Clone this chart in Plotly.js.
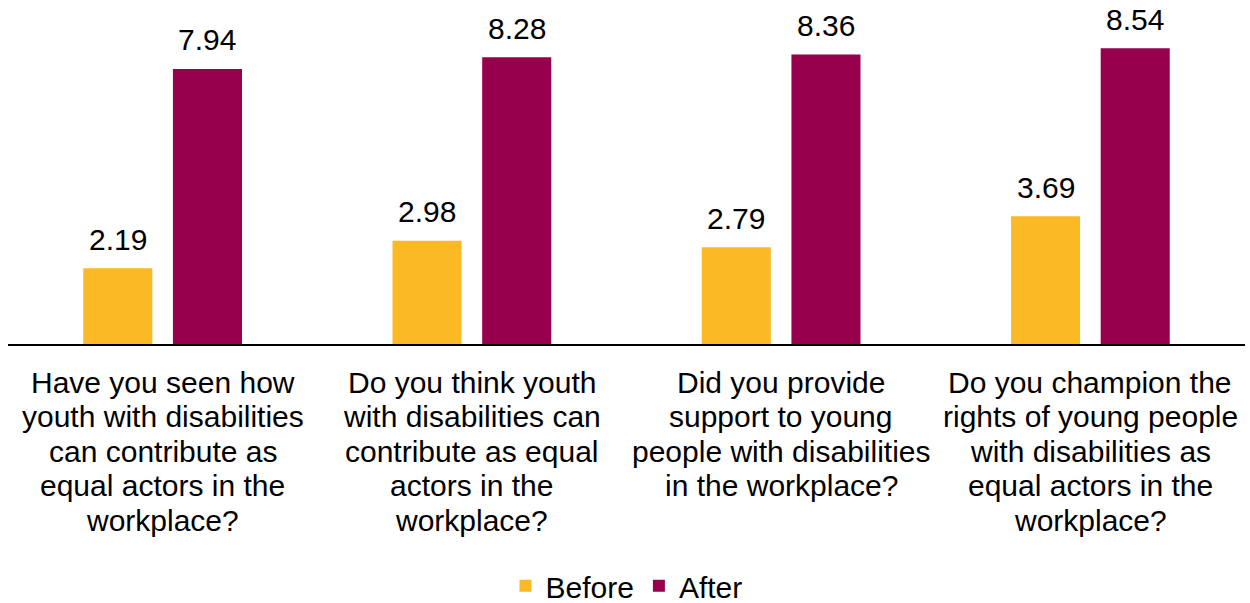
<!DOCTYPE html>
<html><head><meta charset="utf-8">
<script src="https://cdn.plot.ly/plotly-3.0.1.min.js"></script>
<style>html,body{margin:0;padding:0;background:#fff}#chart{width:1250px;height:603px}</style>
</head><body><div id="chart"></div>
<script>
const categories = ["Q1", "Q2", "Q3", "Q4"];
const categoryLines = [
  ["Have you seen how", "youth with disabilities", "can contribute as", "equal actors in the", "workplace?"],
  ["Do you think youth", "with disabilities can", "contribute as equal", "actors in the", "workplace?"],
  ["Did you provide", "support to young", "people with disabilities", "in the workplace?"],
  ["Do you champion the", "rights of young people", "with disabilities as", "equal actors in the", "workplace?"]
];
const seriesNames = ["Before", "After"];
const beforeValues = [2.19, 2.98, 2.79, 3.69];
const afterValues = [7.94, 8.28, 8.36, 8.54];

const colors = ["#FBBA25", "#96004C"];
const FONT = "Arial, 'Liberation Sans', sans-serif";
const W = 1250, H = 603;
const mL = 8, mR = 5, mT = 0, mB = 259;
const plotW = W - mL - mR;
const catW = plotW / categories.length;
const bargap = 0.42;
const slot = catW * (1 - bargap) / 2;

const traces = [beforeValues, afterValues].map((vals, i) => ({
  type: "bar", name: seriesNames[i], x: categories, y: vals,
  marker: {color: colors[i]}, hoverinfo: "skip"
}));

const annotations = [];
[beforeValues, afterValues].forEach((vals, s) => {
  vals.forEach((v, i) => {
    annotations.push({
      x: categories[i], y: v, xref: "x", yref: "y", text: v.toFixed(2),
      showarrow: false, xanchor: "center", yanchor: "middle",
      xshift: (s === 0 ? -1 : 1) * slot / 2, yshift: 29,
      font: {family: FONT, size: 30, color: "#000"}
    });
  });
});
categoryLines.forEach((lines, i) => {
  lines.forEach((ln, j) => {
    annotations.push({
      x: categories[i], y: 0, xref: "x", yref: "paper", text: ln,
      showarrow: false, xanchor: "center", yanchor: "middle",
      yshift: -(38 + j * 34.6),
      font: {family: FONT, size: 30, color: "#000"}
    });
  });
});

const layout = {
  width: W, height: H,
  margin: {l: mL, r: mR, t: mT, b: mB, pad: 0, autoexpand: false},
  paper_bgcolor: "#fff", plot_bgcolor: "#fff",
  barmode: "group", bargap: bargap, bargroupgap: 0.23,
  font: {family: FONT, size: 30, color: "#000"},
  xaxis: {showticklabels: false, ticks: "", showgrid: false, zeroline: false,
          showline: true, linecolor: "#000", linewidth: 2, automargin: false},
  yaxis: {range: [0, 9.93], visible: false, showgrid: false, zeroline: false},
  showlegend: true,
  legend: {orientation: "h", x: 0.5, xanchor: "center", y: -0.703, yanchor: "middle",
           font: {family: FONT, size: 30, color: "#000"}, itemwidth: 30, tracegroupgap: 0},
  annotations: annotations
};
Plotly.newPlot("chart", traces, layout, {displayModeBar: false, staticPlot: true});
</script></body></html>
